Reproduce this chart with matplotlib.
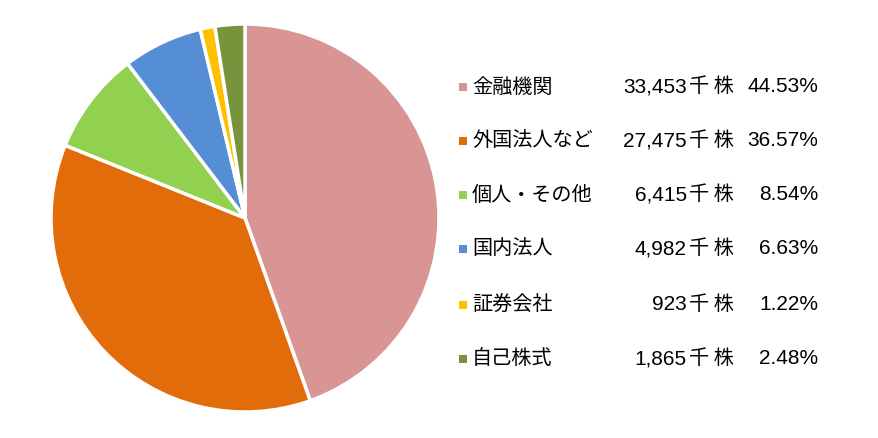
import matplotlib.pyplot as plt
from matplotlib.patches import Rectangle

plt.rcParams['font.family'] = ['Noto Sans CJK JP', 'DejaVu Sans']

labels = ["金融機関", "外国法人など", "個人・その他", "国内法人", "証券会社", "自己株式"]
shares = [33453, 27475, 6415, 4982, 923, 1865]
share_text = ["33,453", "27,475", "6,415", "4,982", "923", "1,865"]
pct_text = ["44.53%", "36.57%", "8.54%", "6.63%", "1.22%", "2.48%"]
colors = ["#D99594", "#E36C0A", "#92D050", "#558ED5", "#FFC000", "#77933C"]

W, H = 879, 438
fig = plt.figure(figsize=(W / 100, H / 100), dpi=100)

# pie area
cx, cy, r = 245, 218, 194
ax = fig.add_axes([(cx - r) / W, 1 - (cy + r) / H, 2 * r / W, 2 * r / H])
ax.pie(shares, colors=colors, startangle=90, counterclock=False,
       wedgeprops=dict(edgecolor="white", linewidth=2.5))
ax.set_xlim(-1, 1)
ax.set_ylim(-1, 1)
ax.set_aspect("equal")
ax.axis("off")

# legend drawn as text in figure pixels
lax = fig.add_axes([0, 0, 1, 1])
lax.set_xlim(0, W)
lax.set_ylim(H, 0)
lax.axis("off")
num_font = ["Liberation Sans", "DejaVu Sans"]
row_y = [87, 141, 195, 249, 305, 359]
for i, lab in enumerate(labels):
    y = row_y[i]
    lax.add_patch(Rectangle((459, y - 4), 8, 8, color=colors[i], lw=0))
    lax.text(472, y, lab, fontsize=14.5, va="center", ha="left")
    lax.text(687, y, share_text[i], fontsize=15, va="center", ha="right",
             family=num_font)
    lax.text(689, y, "千 株", fontsize=14.5, va="center", ha="left")
    lax.text(818, y, pct_text[i], fontsize=15, va="center", ha="right",
             family=num_font)

fig.savefig("out.png", dpi=100, facecolor="white")
